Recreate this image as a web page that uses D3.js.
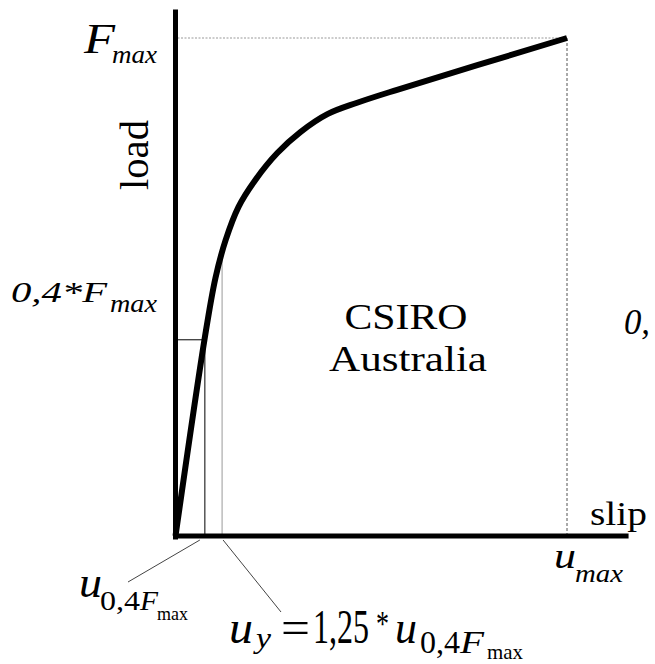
<!DOCTYPE html>
<html>
<head>
<meta charset="utf-8">
<script src="https://cdn.jsdelivr.net/npm/d3@7"></script>
<style>
body { margin: 0; background: #fff; }
.axis path { stroke: #000; stroke-width: 5; }
.curve { fill: none; stroke: #000; stroke-width: 6; }
</style>
</head>
<body>
<div id="chart"></div>
<script>
// load-slip curve (slip and load as fractions of u_max and F_max)
var slip = [0, 0.074, 0.102, 0.128, 0.161, 0.204, 0.260, 0.319, 0.388, 0.464, 0.566, 1.0];
var load = [0, 0.394, 0.518, 0.594, 0.661, 0.715, 0.769, 0.811, 0.847, 0.870, 0.896, 1.0];

// reference values
var fMax = 1, f04 = 0.394, uMax = 1;
var u04 = 0.075, uy = 0.119, uyLoad = 0.56;
var xEnd = 1.156, yTop = 1.058;

var FONT = "'Liberation Serif', Tinos, 'Times New Roman', Times, serif";

var W = 655, H = 664;
var svg = d3.select("#chart").append("svg").attr("width", W).attr("height", H)
    .attr("font-family", FONT);

var x = d3.scaleLinear().domain([0, 1]).range([175.5, 567]);
var y = d3.scaleLinear().domain([0, 1]).range([536, 38]);

var pts = slip.map(function(d, i) { return [d, load[i]]; });

// guide lines
svg.append("line")
    .attr("x1", x(0) + 2).attr("x2", x(uMax))
    .attr("y1", y(fMax)).attr("y2", y(fMax))
    .attr("stroke", "#999").attr("stroke-width", 1).attr("stroke-dasharray", "2,1.5");
svg.append("line")
    .attr("x1", x(uMax)).attr("x2", x(uMax))
    .attr("y1", y(fMax)).attr("y2", y(0))
    .attr("stroke", "#555").attr("stroke-width", 1).attr("stroke-dasharray", "3,2");

svg.append("line")
    .attr("x1", x(0)).attr("x2", x(u04))
    .attr("y1", y(f04)).attr("y2", y(f04))
    .attr("stroke", "#000").attr("stroke-width", 1);
svg.append("line")
    .attr("x1", x(u04)).attr("x2", x(u04))
    .attr("y1", y(f04)).attr("y2", y(0))
    .attr("stroke", "#000").attr("stroke-width", 1);
svg.append("line")
    .attr("x1", x(uy)).attr("x2", x(uy))
    .attr("y1", y(uyLoad)).attr("y2", y(0))
    .attr("stroke", "#999").attr("stroke-width", 1);

// leader lines to the u labels
svg.append("line")
    .attr("x1", x(u04) - 5).attr("y1", y(0) + 4)
    .attr("x2", 128).attr("y2", 582)
    .attr("stroke", "#444").attr("stroke-width", 1);
svg.append("line")
    .attr("x1", x(uy) + 1).attr("y1", y(0) + 4)
    .attr("x2", 281).attr("y2", 612)
    .attr("stroke", "#444").attr("stroke-width", 1);

// axes, no ticks
var xa = d3.scaleLinear().domain([0, xEnd]).range([x(0) - 3, x(xEnd)]);
var ya = d3.scaleLinear().domain([0, yTop]).range([y(0) + 3, y(yTop)]);

svg.append("g").attr("class", "axis")
    .attr("transform", "translate(0," + (y(0) - 0.5) + ")")
    .call(d3.axisBottom(xa).tickValues([]).tickSizeOuter(0));
svg.append("g").attr("class", "axis")
    .attr("transform", "translate(" + (x(0) - 0.5) + ",0)")
    .call(d3.axisLeft(ya).tickValues([]).tickSizeOuter(0));

// the curve
var line = d3.line()
    .x(function(d) { return x(d[0]); })
    .y(function(d) { return y(d[1]); })
    .curve(d3.curveCatmullRom.alpha(0.5));

svg.append("path").datum(pts).attr("class", "curve").attr("d", line);

// text helper
function txt(s, tx, ty, size, italic, len, anchor) {
    var t = svg.append("text")
        .attr("x", tx).attr("y", ty)
        .style("font-family", FONT)
        .style("font-size", size + "px")
        .style("font-style", italic ? "italic" : "normal")
        .attr("text-anchor", anchor || "start")
        .attr("fill", "#000")
        .text(s);
    if (len) t.attr("textLength", len).attr("lengthAdjust", "spacingAndGlyphs");
    return t;
}

// F_max
txt("F", 84, y(fMax) + 15, 42, true, 31);
txt("max", 112, y(fMax) + 25, 26, true, 45);

// 0,4*F_max
txt("0,4*F", 11, y(f04) - 38, 30, true, 96);
txt("max", 110, y(f04) - 28, 25, true, 47);

// load
svg.append("text")
    .attr("transform", "translate(148,155) rotate(-90)")
    .attr("text-anchor", "middle")
    .style("font-family", FONT)
    .style("font-size", "40px")
    .attr("textLength", 70).attr("lengthAdjust", "spacingAndGlyphs")
    .text("load");

// CSIRO Australia
txt("CSIRO", 406, 329, 35, false, 123, "middle");
txt("Australia", 408, 371, 35, false, 158, "middle");
txt("0,", 624, 334, 36, true, 26);

// slip
txt("slip", 590, 525, 34, false, 57);

// u_max
txt("u", x(uMax) - 13, 568, 36, true, 22);
txt("max", x(uMax) + 8, 582, 25, true, 48);

// u_{0,4F_max}
txt("u", 79, 597, 44, true, 23);
txt("0,4", 100, 610, 27, false, 40);
txt("F", 140, 610, 27, true, 18);
txt("max", 157, 620, 19, false, 31);

// u_y = 1,25*u_{0,4F_max}
txt("u", 229, 643, 46, true, 24);
txt("y", 256, 648, 30, true, 15);
txt("=", 281, 643, 46, false, 29);
txt("1,25", 313, 643, 48, false, 56);
txt("*", 376, 636, 36, false, 13);
txt("u", 395, 643, 46, true, 22);
txt("0,4", 420, 653, 31, false, 40);
txt("F", 460, 653, 31, true, 24);
txt("max", 487, 659, 22, false, 36);
</script>
</body>
</html>
